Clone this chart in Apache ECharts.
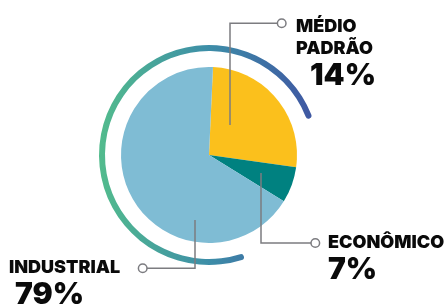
<!DOCTYPE html>
<html>
<head>
<meta charset="utf-8">
<script src="https://cdn.jsdelivr.net/npm/echarts@6/dist/echarts.min.js"></script>
<style>
  html, body { margin: 0; padding: 0; background: #ffffff; }
  #chart { width: 448px; height: 306px; }
</style>
</head>
<body>
<div id="chart"></div>
<script>
// categorias e valores
var categorias = ['MÉDIO PADRÃO', 'ECONÔMICO', 'INDUSTRIAL'];
var percentuais = ['14%', '7%', '79%'];
// fatias como aparecem no desenho
var fatias = [26.5, 6.6, 66.9];
var cores = ['#fbc01c', '#008180', '#7fbcd4'];

var myChart = echarts.init(document.getElementById('chart'));

var fonte = 'Inter, "DejaVu Sans", sans-serif';
var cinza = '#7c7c80';

function linha(points) {
    return {
        type: 'polyline', z: 100,
        shape: { points: points },
        style: { stroke: cinza, lineWidth: 1.5, fill: null }
    };
}
function bolinha(x, y) {
    return {
        type: 'circle', z: 100,
        shape: { cx: x, cy: y, r: 4.3 },
        style: { stroke: cinza, lineWidth: 1.5, fill: '#ffffff' }
    };
}
function texto(x, y, t, size, align) {
    return {
        type: 'text', z: 100, x: x, y: y,
        style: {
            text: t, fill: '#0a0a0a', fontFamily: fonte, fontWeight: 900,
            fontSize: size, align: align || 'left', verticalAlign: 'middle'
        }
    };
}

var nomes = categorias.map(function (c) { return c.split(' '); });

var option = {
    backgroundColor: '#ffffff',
    animation: false,
    series: [
        {
            // anel decorativo
            type: 'pie',
            silent: true,
            center: [209, 155],
            radius: [104, 110],
            startAngle: -71,
            endAngle: -340,
            label: { show: false },
            labelLine: { show: false },
            itemStyle: {
                borderRadius: 3,
                color: {
                    type: 'linear', global: true,
                    x: 100, y: 0, x2: 316, y2: 0,
                    colorStops: [
                        { offset: 0, color: '#52bb8d' },
                        { offset: 0.5, color: '#3d8ea8' },
                        { offset: 1, color: '#3f55a2' }
                    ]
                }
            },
            data: [{ value: 1 }]
        },
        {
            name: 'tipos',
            type: 'pie',
            silent: true,
            center: [209, 155],
            radius: 88,
            startAngle: 87.4,
            label: { show: false },
            labelLine: { show: false },
            data: categorias.map(function (c, i) {
                return { name: c, value: fatias[i], itemStyle: { color: cores[i] } };
            })
        }
    ],
    graphic: [
        linha([[230, 125], [230, 23.3], [277.5, 23.3]]),
        bolinha(281.7, 23.3),
        linha([[261, 173], [261, 243], [311, 243]]),
        bolinha(315.3, 243),
        linha([[195, 220], [195, 268.3], [147, 268.3]]),
        bolinha(142.7, 268.3),

        texto(296, 26.5, nomes[0][0], 18),
        texto(296, 48.3, nomes[0][1], 18),
        texto(376, 76, percentuais[0], 30, 'right'),

        texto(328, 243, nomes[1][0], 18),
        texto(328, 270, percentuais[1], 30),

        texto(9, 268, nomes[2][0], 18),
        texto(15, 294.5, percentuais[2], 30)
    ]
};

myChart.setOption(option);
</script>
</body>
</html>
